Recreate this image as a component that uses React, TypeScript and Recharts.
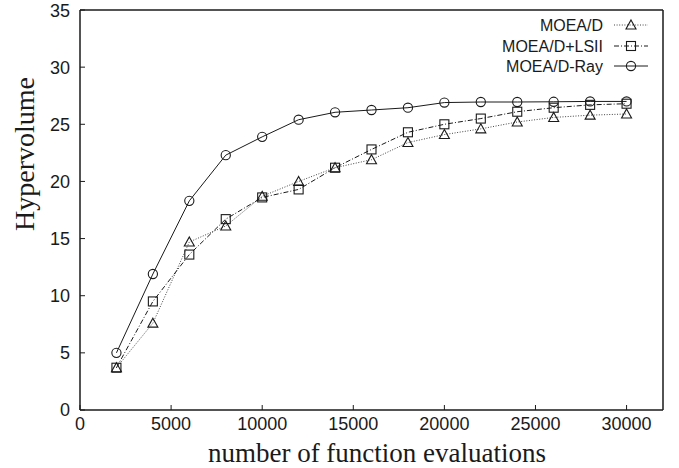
import React from 'react';
import { LineChart, Line, XAxis, YAxis, Legend } from 'recharts';

const evaluations = [2000, 4000, 6000, 8000, 10000, 12000, 14000, 16000, 18000, 20000, 22000, 24000, 26000, 28000, 30000];
const moead = [3.7, 7.6, 14.7, 16.1, 18.7, 20.0, 21.2, 21.9, 23.4, 24.1, 24.6, 25.2, 25.6, 25.8, 25.9];
const moeadLsii = [3.7, 9.5, 13.6, 16.7, 18.6, 19.3, 21.2, 22.8, 24.3, 25.0, 25.5, 26.1, 26.45, 26.7, 26.8];
const moeadRay = [5.0, 11.9, 18.3, 22.3, 23.9, 25.4, 26.05, 26.25, 26.45, 26.9, 26.95, 26.95, 26.97, 27.0, 27.0];
const xTicks = [0, 5000, 10000, 15000, 20000, 25000, 30000];
const yTicks = [0, 5, 10, 15, 20, 25, 30, 35];
const seriesNames = ['MOEA/D', 'MOEA/D+LSII', 'MOEA/D-Ray'];

const data = evaluations.map((x, i) => ({ x, a: moead[i], b: moeadLsii[i], c: moeadRay[i] }));

const SANS = '"Liberation Sans", Arial, Helvetica, sans-serif';
const SERIF = '"Liberation Serif", "Times New Roman", serif';
const INK = '#1a1a1a';

const Tri = ({ cx, cy }: any) => (
  <polygon points={`${cx},${cy - 5} ${cx + 5},${cy + 4} ${cx - 5},${cy + 4}`} fill="none" stroke={INK} strokeWidth={1.1} />
);
const Sq = ({ cx, cy }: any) => (
  <rect x={cx - 4.5} y={cy - 4.5} width={9} height={9} fill="none" stroke={INK} strokeWidth={1.1} />
);
const Circ = ({ cx, cy }: any) => <circle cx={cx} cy={cy} r={4.6} fill="none" stroke={INK} strokeWidth={1.1} />;

const styles = [
  { marker: Tri, dash: '1 1.6', color: '#444' },
  { marker: Sq, dash: '5 2 1 2', color: INK },
  { marker: Circ, dash: undefined, color: INK },
];

const makeDot = (M: any) => (props: any) => {
  const { cx, cy, index } = props;
  if (cx == null || cy == null) return <g key={`d-${index}`} />;
  return <M key={`d-${index}`} cx={cx} cy={cy} />;
};

const LegendBox = () => {
  const rows = [15, 36, 56];
  return (
    <svg width={210} height={70} style={{ display: 'block' }}>
      {seriesNames.map((name, i) => {
        const s = styles[i];
        const M = s.marker;
        return (
          <g key={name}>
            <text x={153} y={rows[i]} textAnchor="end" dominantBaseline="central" fontFamily={SANS} fontSize={16} fill={INK}>
              {name}
            </text>
            <line x1={164} x2={198} y1={rows[i]} y2={rows[i]} stroke={s.color} strokeWidth={1} strokeDasharray={s.dash} />
            <M cx={181} cy={rows[i]} />
          </g>
        );
      })}
    </svg>
  );
};

export default function App() {
  return (
    <div style={{ position: 'absolute', left: 0, top: 0, width: 679, height: 468, background: '#fff' }}>
      <LineChart width={679} height={468} data={data} margin={{ top: 0, right: 0, bottom: 0, left: 0 }}>
        <XAxis
          dataKey="x"
          type="number"
          domain={[0, 32000]}
          ticks={xTicks}
          height={58}
          tickSize={-5}
          tickMargin={12}
          axisLine={{ stroke: INK, strokeWidth: 1.5 }}
          tickLine={{ stroke: INK }}
          tick={{ fill: INK, fontFamily: SANS, fontSize: 18 }}
          label={{
            content: () => (
              <text x={377} y={453} textAnchor="middle" dominantBaseline="central" fontFamily={SERIF} fontSize={27} fill={INK}>
                number of function evaluations
              </text>
            ),
          }}
        />
        <XAxis
          xAxisId="top"
          dataKey="x"
          type="number"
          orientation="top"
          domain={[0, 32000]}
          ticks={xTicks}
          height={10}
          tickSize={-5}
          tick={false}
          axisLine={{ stroke: INK, strokeWidth: 1.5 }}
          tickLine={{ stroke: INK }}
        />
        <YAxis
          type="number"
          domain={[0, 35]}
          ticks={yTicks}
          width={80}
          tickSize={-5}
          tickMargin={15}
          axisLine={{ stroke: INK, strokeWidth: 1.5 }}
          tickLine={{ stroke: INK }}
          tick={{ fill: INK, fontFamily: SANS, fontSize: 18 }}
          label={{
            content: () => (
              <text
                x={24}
                y={154}
                transform="rotate(-90 24 154)"
                textAnchor="middle"
                dominantBaseline="central"
                fontFamily={SERIF}
                fontSize={28}
                fill={INK}
              >
                Hypervolume
              </text>
            ),
          }}
        />
        <YAxis
          yAxisId="right"
          orientation="right"
          type="number"
          domain={[0, 35]}
          ticks={yTicks}
          width={16}
          tickSize={-5}
          tick={false}
          axisLine={{ stroke: INK, strokeWidth: 1.5 }}
          tickLine={{ stroke: INK }}
        />
        <Legend
          layout="horizontal"
          verticalAlign="middle"
          align="center"
          content={() => <LegendBox />}
          wrapperStyle={{ position: 'absolute', left: 450, top: 10, width: 210, height: 70 }}
        />
        <Line
          dataKey="a"
          name={seriesNames[0]}
          stroke={styles[0].color}
          strokeWidth={1}
          strokeDasharray={styles[0].dash}
          dot={makeDot(Tri)}
          activeDot={false}
          isAnimationActive={false}
        />
        <Line
          dataKey="b"
          name={seriesNames[1]}
          stroke={styles[1].color}
          strokeWidth={1}
          strokeDasharray={styles[1].dash}
          dot={makeDot(Sq)}
          activeDot={false}
          isAnimationActive={false}
        />
        <Line
          dataKey="c"
          name={seriesNames[2]}
          stroke={styles[2].color}
          strokeWidth={1}
          dot={makeDot(Circ)}
          activeDot={false}
          isAnimationActive={false}
        />
      </LineChart>
    </div>
  );
}
